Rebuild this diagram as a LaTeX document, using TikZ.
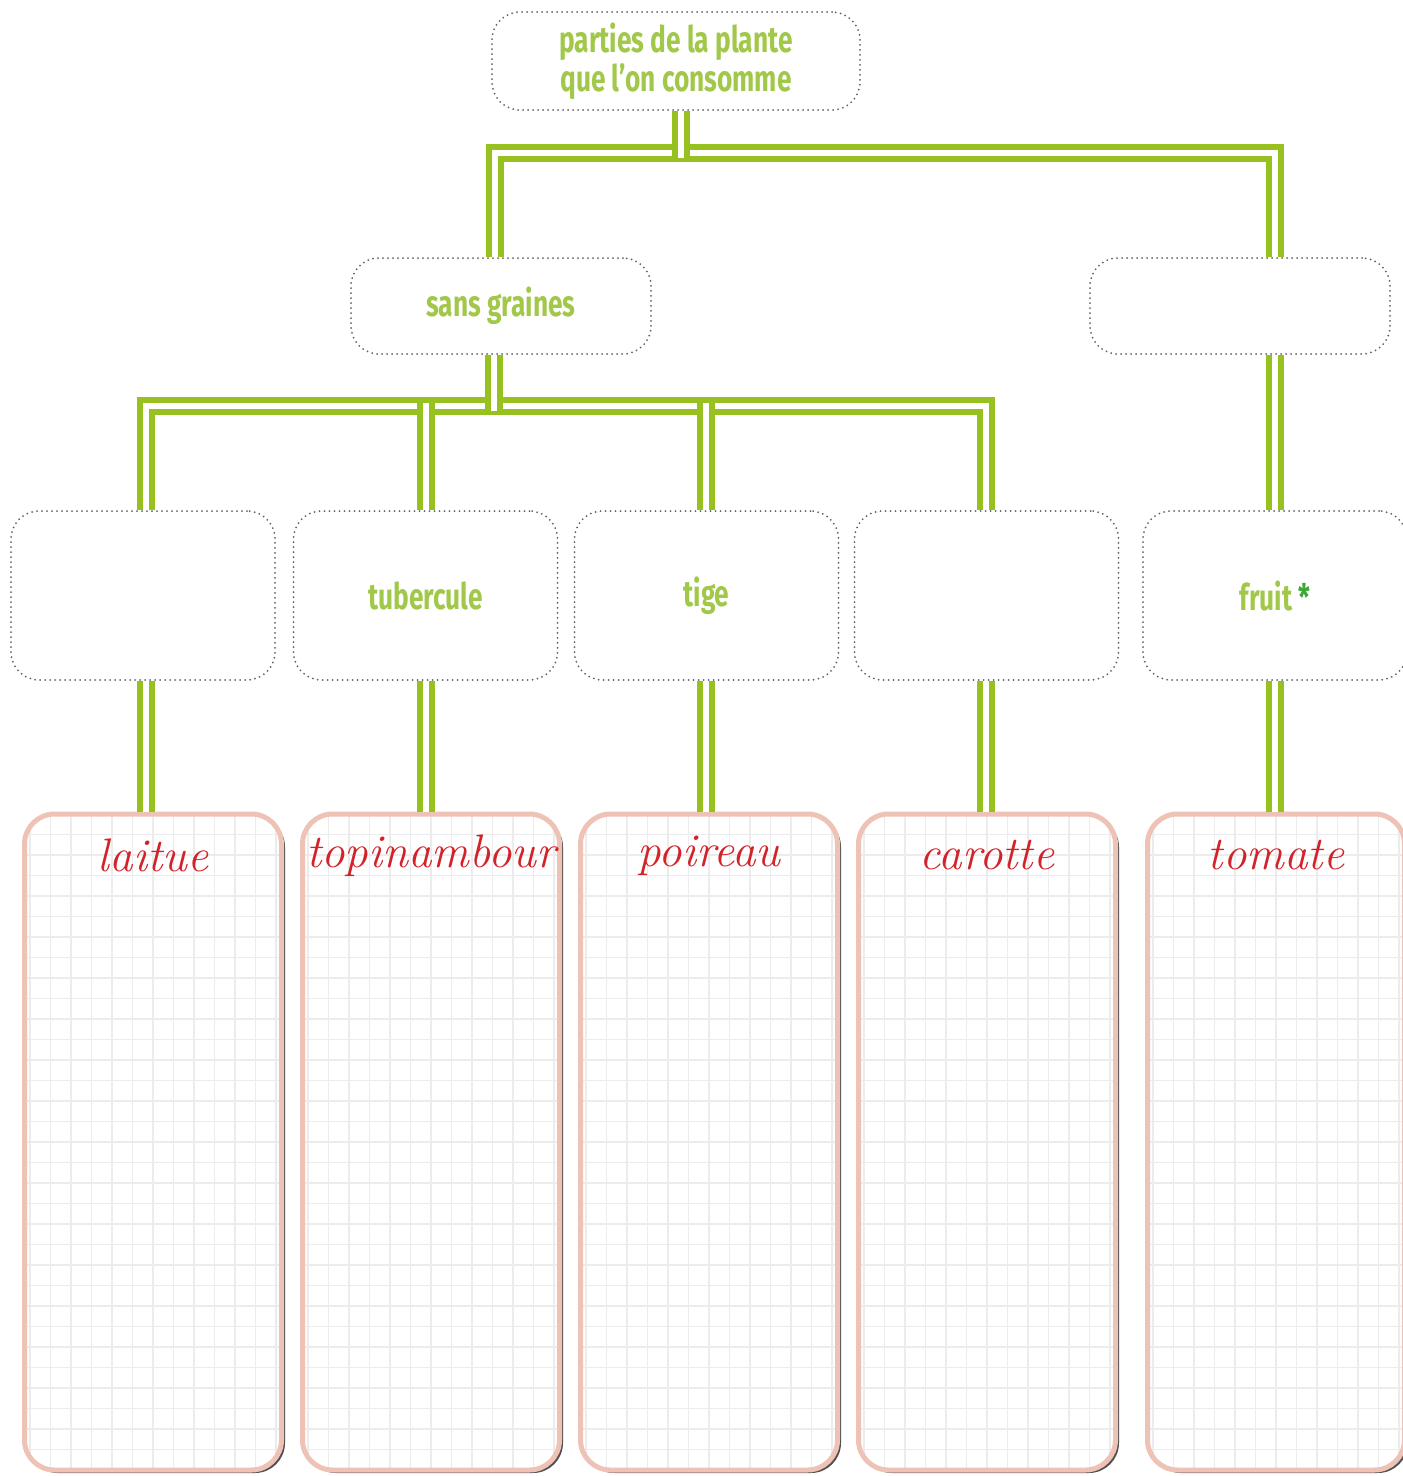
\documentclass[tikz,border=0pt]{standalone}
\usepackage{fontspec}
\usepackage{tikz}
\usetikzlibrary{positioning, shadows}
\newfontfamily\titlefont[FakeStretch=0.72]{Fira Sans}
\definecolor{leafgreen}{HTML}{97C11F}
\definecolor{labelgreen}{HTML}{A2C84A}
\definecolor{stargreen}{HTML}{3AA935}
\definecolor{cardpink}{HTML}{EEC2B5}
\definecolor{inkred}{HTML}{D2232A}
\definecolor{gridgray}{HTML}{ECECEC}

\begin{document}
\begin{tikzpicture}[x=1pt, y=-1pt,
    dotbox/.style={draw=black!62, line width=2pt, line cap=round,
      dash pattern=on 0pt off 5pt, rounded corners=28pt, fill=white,
      font=\titlefont\bfseries\fontsize{36.5}{39}\selectfont,
      text=labelgreen, align=center},
    pipe/.style={draw=leafgreen, line width=6pt, double=white, double distance=6pt},
    card/.style={draw=cardpink, line width=5pt, rounded corners=30pt, fill=white,
      minimum width=257pt, minimum height=656pt,
      drop shadow={shadow xshift=3.5pt, shadow yshift=-3pt, fill=black!80, opacity=0.85},
      path picture={\draw[gridgray, line width=1.1pt]
        (path picture bounding box.south west) grid[step=20.5pt]
        (path picture bounding box.north east);}},
    ink/.style={text=inkred, font=\itshape\fontsize{47}{47}\selectfont, inner sep=0pt}]

    \useasboundingbox (0,0) rectangle (1403,1476);

    % box centres
    \coordinate (root-c) at (676,61);
    \coordinate (sans-c) at (501,306);
    \coordinate (feuille-c) at (143,595.5);
    \coordinate (tubercule-c) at (425.5,595.5);
    \coordinate (tige-c) at (706.5,595.5);
    \coordinate (racine-c) at (986.5,595.5);
    \coordinate (fruit-c) at (1275,595.5);

    % boxes
    \node[dotbox, minimum width=368pt, minimum height=98pt] (root) at (root-c)
      {parties de la plante\\que l’on consomme};
    \node[dotbox, minimum width=300pt, minimum height=96pt] (sans) at (sans-c) {sans graines};
    \node[dotbox, minimum width=300pt, minimum height=96pt] (avec) at (1240,306) {};
    \foreach \name/\txt in {feuille/{}, tubercule/tubercule, tige/tige, racine/{},
        fruit/{fruit~\textcolor{stargreen}{*}}}
      \node[dotbox, minimum width=264pt, minimum height=169pt] (\name) at (\name-c) {\txt};

    % cards
    \foreach \name/\cx in {laitue/153, topinambour/431, poireau/709, carotte/987, tomate/1276}{
      \node[card] (\name) at (\cx,1142) {};
      \node[ink] (\name-word) at ([yshift=-44pt]\name.north) {\name};
    }

    % pipes (drawn last, ends meet the box borders)
    \draw[pipe] ([xshift=-6pt]sans.north) -- ++(0,-104) -| (fruit.north |- avec.north);
    \draw[pipe] ([xshift=5pt]root.south) -- ++(0,47);
    \draw[pipe] ([xshift=3pt]feuille.north) -- ++(0,-104) -| ([xshift=-0.5pt]racine.north);
    \draw[pipe] ([xshift=-7.5pt]sans.south) -- ++(0,56);
    \draw[pipe] (tubercule.north) -- ++(0,-107);
    \draw[pipe] ([xshift=-0.5pt]tige.north) -- ++(0,-107);
    \draw[pipe] (fruit.north |- avec.south) -- (fruit.north);
    \draw[pipe] ([xshift=3pt]feuille.south) -- ([xshift=-7pt]laitue.north);
    \draw[pipe] (tubercule.south) -- ([xshift=-5.5pt]topinambour.north);
    \draw[pipe] ([xshift=-0.5pt]tige.south) -- ([xshift=-3pt]poireau.north);
    \draw[pipe] ([xshift=-0.5pt]racine.south) -- ([xshift=-1pt]carotte.north);
    \draw[pipe] (fruit.south) -- ([xshift=-1pt]tomate.north);
  \end{tikzpicture}
\end{document}
